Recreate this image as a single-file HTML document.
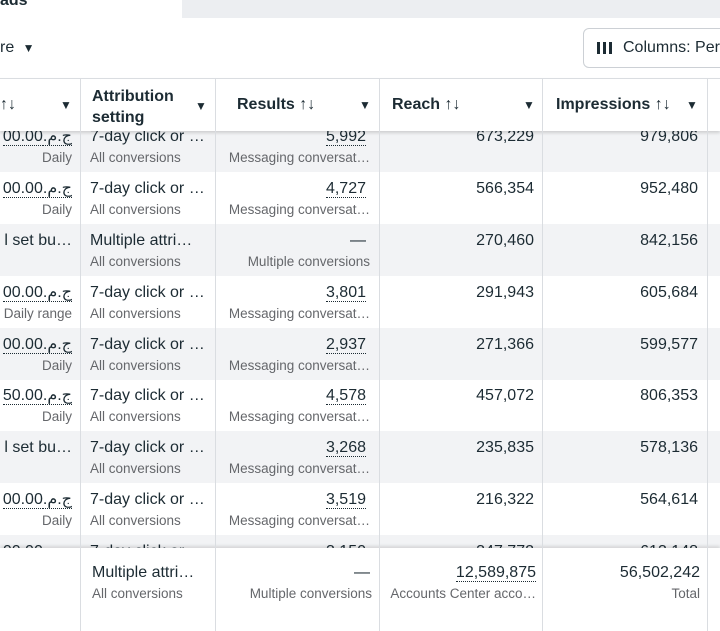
<!DOCTYPE html>
<html><head><meta charset="utf-8"><style>
*{margin:0;padding:0;box-sizing:border-box}
body{width:720px;height:631px;overflow:hidden;background:#fff;font-family:"Liberation Sans","Noto Sans CJK SC",sans-serif;color:#1c2b33;position:relative}
.a{position:absolute;white-space:nowrap}
.p{font-size:16px;line-height:18px}
.s{font-size:13.5px;line-height:16px;color:#65676b}
.r{text-align:right}
.row{position:absolute;left:0;width:720px;height:52px}
.g{background:#f2f3f5}
.vl{position:absolute;top:78px;width:1px;height:553px;background:#dadde1}
.dot{border-bottom:1px dotted #1c2b33}
.hd{position:absolute;top:78px;left:0;width:720px;height:53px;background:#fff;border-top:1px solid #dadde1;box-shadow:0 2px 3px rgba(0,0,0,.15)}
.ft{position:absolute;top:548px;left:0;width:720px;height:83px;background:#fff;box-shadow:0 -2px 3px rgba(0,0,0,.12)}
.h{font-size:16px;font-weight:bold;line-height:21px}
.tri{font-size:12px;color:#1c2b33}
.bar{position:absolute;top:42px;width:3px;height:12px;background:#1c2b33}
</style></head><body>
<div class="a" style="left:0;top:0;width:182px;height:18px;background:#fff"></div>
<div class="a" style="left:182px;top:0;width:538px;height:18px;background:#eceef1"></div>
<div class="a" style="left:0;top:-8px;font-size:16px;font-weight:bold">ads</div>
<div class="a p" style="left:0;top:39px">re <span class="tri" style="margin-left:4px">▼</span></div>
<div class="a" style="left:583px;top:28px;width:150px;height:40px;border:1px solid #ccd0d5;border-radius:6px"></div>
<div class="bar" style="left:597px"></div><div class="bar" style="left:603px"></div><div class="bar" style="left:609px"></div>
<div class="a p" style="left:623px;top:39px">Columns: Per</div>

<div id="rows"></div>
<script>
const rows=[
["00.00","Daily","7-day click or …","All conversions","5,992","Messaging conversat…","673,229","979,806",1],
["00.00","Daily","7-day click or …","All conversions","4,727","Messaging conversat…","566,354","952,480",0],
["set bu…","","Multiple attri…","All conversions","—","Multiple conversions","270,460","842,156",1],
["00.00","Daily range","7-day click or …","All conversions","3,801","Messaging conversat…","291,943","605,684",0],
["00.00","Daily","7-day click or …","All conversions","2,937","Messaging conversat…","271,366","599,577",1],
["50.00","Daily","7-day click or …","All conversions","4,578","Messaging conversat…","457,072","806,353",0],
["set bu…","","7-day click or …","All conversions","3,268","Messaging conversat…","235,835","578,136",1],
["00.00","Daily","7-day click or …","All conversions","3,519","Messaging conversat…","216,322","564,614",0],
["00.00","","7-day click or …","","3,150","","347,772","613,148",1]];
const tops=[120,172,224,276,328,379,431,483,535];
let h="";
rows.forEach((r,i)=>{const t=tops[i];
h+=`<div class="row ${r[8]?'g':''}" style="top:${t}px"></div>`;
const money=r[0].indexOf('set')<0;
h+=`<div class="a p r" style="right:${720-72}px;top:${t+8}px">${money?'<span class="dot">'+r[0]+'</span><span class="dot">.ج.م</span>':'l '+r[0]}</div>`;
h+=`<div class="a s r" style="right:${720-72}px;top:${t+30}px">${r[1]}</div>`;
h+=`<div class="a p" style="left:90px;top:${t+8}px">${r[2]}</div>`;
h+=`<div class="a s" style="left:90px;top:${t+30}px">${r[3]}</div>`;
h+=`<div class="a p r" style="right:${720-366}px;top:${t+8}px">${r[4]=='—'?r[4]:'<span class="dot">'+r[4]+'</span>'}</div>`;
h+=`<div class="a s r" style="right:${720-370}px;top:${t+30}px">${r[5]}</div>`;
h+=`<div class="a p r" style="right:${720-534}px;top:${t+8}px">${r[6]}</div>`;
h+=`<div class="a p r" style="right:${720-698}px;top:${t+8}px">${r[7]}</div>`;
});
document.getElementById('rows').innerHTML=h;
</script>
<div class="hd"></div>
<div class="a h" style="left:0;top:94px">↑↓</div>
<div class="a tri" style="left:60px;top:98px">▼</div>
<div class="a h" style="left:92px;top:86px">Attribution<br>setting</div>
<div class="a tri" style="left:195px;top:99px">▼</div>
<div class="a h" style="left:237px;top:94px">Results ↑↓</div>
<div class="a tri" style="left:359px;top:98px">▼</div>
<div class="a h" style="left:392px;top:94px">Reach ↑↓</div>
<div class="a tri" style="left:523px;top:98px">▼</div>
<div class="a h" style="left:556px;top:94px">Impressions ↑↓</div>
<div class="a tri" style="left:686px;top:98px">▼</div>
<div class="ft"></div>
<div class="a p" style="left:92px;top:564px">Multiple attri…</div>
<div class="a s" style="left:92px;top:586px">All conversions</div>
<div class="a p r" style="right:350px;top:564px">—</div>
<div class="a s r" style="right:348px;top:586px">Multiple conversions</div>
<div class="a p r" style="right:184px;top:564px"><span class="dot">12,589,875</span></div>
<div class="a s r" style="right:184px;top:586px">Accounts Center acco…</div>
<div class="a p r" style="right:20px;top:564px">56,502,242</div>
<div class="a s r" style="right:20px;top:586px">Total</div>
<div class="vl" style="left:80px"></div>
<div class="vl" style="left:215px"></div>
<div class="vl" style="left:379px"></div>
<div class="vl" style="left:542px"></div>
<div class="vl" style="left:707px"></div>
</body></html>
